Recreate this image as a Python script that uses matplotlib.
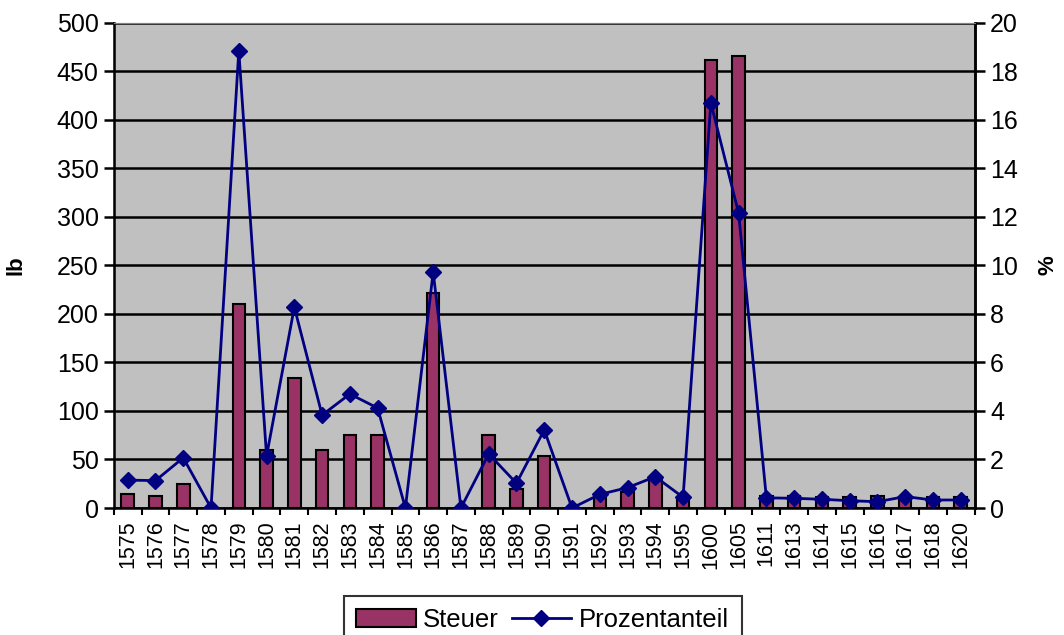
import numpy as np
import matplotlib
matplotlib.use('Agg')
import matplotlib.pyplot as plt
from matplotlib.patches import Patch
from matplotlib.lines import Line2D

# Jahre (Kategorien)
years = ["1575", "1576", "1577", "1578", "1579", "1580", "1581", "1582", "1583", "1584",
         "1585", "1586", "1587", "1588", "1589", "1590", "1591", "1592", "1593", "1594",
         "1595", "1600", "1605", "1611", "1613", "1614", "1615", "1616", "1617", "1618", "1620"]

# Steuer in lb
steuer = [14, 12, 25, 0, 210, 60, 134, 60, 75, 75,
          0, 222, 0, 75, 20, 54, 0, 11, 16, 29,
          10, 462, 466, 12, 12, 11, 11, 12, 11, 11, 11]

# Prozentanteil
prozent = [1.15, 1.13, 2.07, 0.0, 18.85, 2.14, 8.28, 3.83, 4.70, 4.12,
           0.0, 9.73, 0.0, 2.23, 1.02, 3.22, 0.0, 0.56, 0.84, 1.29,
           0.44, 16.7, 12.16, 0.42, 0.40, 0.36, 0.30, 0.26, 0.47, 0.33, 0.33]

plt.rcParams['font.family'] = ['Liberation Sans', 'DejaVu Sans']

fig = plt.figure(figsize=(10.64, 6.35), dpi=100)
ax = fig.add_axes([0.107, 0.2, 0.809, 0.764])
ax.set_facecolor('#C0C0C0')
ax.set_axisbelow(True)

x = np.arange(len(years))
ax.bar(x, steuer, width=0.45, color='#993366', edgecolor='black', linewidth=1.5, zorder=2)

ax.set_xlim(-0.5, len(years) - 0.5)
ax.set_ylim(0, 500)
ax.set_yticks(np.arange(0, 501, 50))
ax.yaxis.grid(True, color='black', linewidth=1.8)
ax.set_ylabel('lb', fontsize=16, fontweight='bold', labelpad=22)

ax.set_xticks(x)
ax.set_xticklabels(years, rotation=90, fontsize=15.5)
ax.tick_params(axis='x', which='major', length=0, pad=9)
ax.set_xticks(np.arange(-0.5, len(years), 1), minor=True)
ax.tick_params(axis='x', which='minor', length=5, width=1.5, direction='out')
ax.tick_params(axis='y', labelsize=18, length=7, width=1.8, direction='out', pad=4)

for side in ['left', 'bottom', 'right']:
    ax.spines[side].set_color('black')
    ax.spines[side].set_linewidth(1.8)
ax.spines['top'].set_color('#808080')

ax2 = ax.twinx()
ax2.plot(x, prozent, color='#000080', linewidth=2, marker='D', markersize=8, zorder=3)
ax2.set_ylim(0, 20)
ax2.set_yticks(np.arange(0, 21, 2))
ax2.tick_params(axis='y', labelsize=18, length=7, width=1.8, direction='out', pad=4)
ax2.set_ylabel('%', fontsize=16, fontweight='bold', labelpad=14)
ax2.spines['right'].set_linewidth(1.8)
ax2.spines['top'].set_color('#808080')

# Legende unten, unterer Rand wie im Original abgeschnitten
handles = [Patch(facecolor='#993366', edgecolor='black', linewidth=1.5),
           Line2D([0], [0], color='#000080', linewidth=2, marker='D', markersize=8)]
leg = fig.legend(handles, ['Steuer', 'Prozentanteil'], loc='upper center',
                 bbox_to_anchor=(0.51, 0.062), ncol=2, fontsize=18.5, frameon=True,
                 fancybox=False, edgecolor='black', handlelength=2.3,
                 columnspacing=0.5, handletextpad=0.3, borderpad=0.5,
                 borderaxespad=0)
leg.get_frame().set_linewidth(1.5)

fig.savefig('out.png', dpi=100)
